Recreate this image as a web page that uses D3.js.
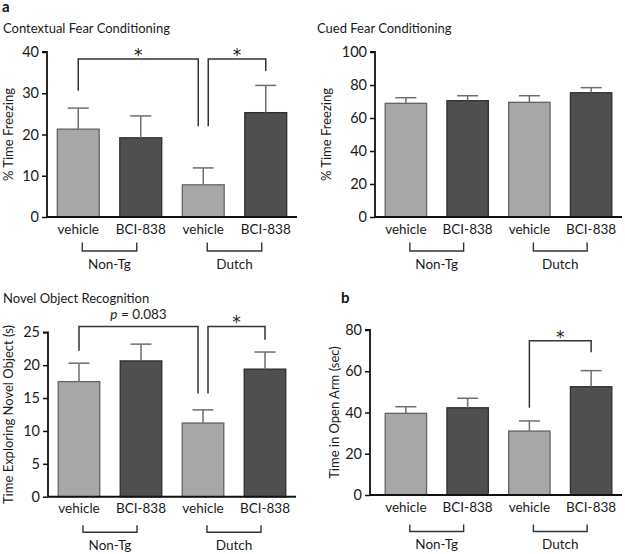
<!DOCTYPE html>
<html>
<head>
<meta charset="utf-8">
<script src="https://cdn.jsdelivr.net/npm/d3@7"></script>
<style>
  html, body { margin: 0; padding: 0; background: #fff; }
  svg { display: block; font-family: Lato, "Open Sans", sans-serif; }
</style>
</head>
<body>
<svg id="chart" width="625" height="554"></svg>
<script>
// ---------- DATA ----------
const categories = ["vehicle", "BCI-838", "vehicle", "BCI-838"];
const groups = ["Non-Tg", "Dutch"];
const treatment = ["vehicle", "BCI-838", "vehicle", "BCI-838"];

const contextualMean = [21.3, 19.2, 7.8, 25.3];
const contextualSem  = [5.1, 5.3, 4.1, 6.6];
const contextualTicks = [0, 10, 20, 30, 40];

const cuedMean = [68.9, 70.5, 69.5, 75.3];
const cuedSem  = [3.4, 3.0, 4.0, 3.1];
const cuedTicks = [0, 20, 40, 60, 80, 100];

const novelMean = [17.5, 20.65, 11.2, 19.4];
const novelSem  = [2.8, 2.55, 2.0, 2.6];
const novelTicks = [0, 5, 10, 15, 20, 25];

const openArmMean = [39.6, 42.3, 31.0, 52.5];
const openArmSem  = [3.2, 4.6, 4.9, 7.8];
const openArmTicks = [0, 20, 40, 60, 80];

// significance annotations: bars a->b, bracket levels in data units
const contextualSig = [
  { a: 0, b: 2, startA: 30.6, top: 38.3, endB: 22.0, label: "*" },
  { a: 2, b: 3, startA: 22.0, top: 38.3, endB: 35.4, label: "*" }
];
const cuedSig = [];
const novelSig = [
  { a: 0, b: 2, startA: 22.2, top: 25.9, endB: 15.7, label: "p = 0.083" },
  { a: 2, b: 3, startA: 15.7, top: 25.9, endB: 23.85, label: "*" }
];
const openArmSig = [
  { a: 2, b: 3, startA: 42.3, top: 74.8, endB: 69.2, label: "*" }
];

// ---------- DRAW ----------
const svg = d3.select("#chart");
svg.append("rect").attr("width", 625).attr("height", 554).attr("fill", "#fff");

const lightFill = "#a7a7a7", lightStroke = "#636363";
const darkFill = "#4f4f4f", darkStroke = "#2e2e2e";

function panel(opt) {
  const g = svg.append("g");
  const x = d3.scaleBand().domain(d3.range(categories.length))
    .range(opt.bandRange).paddingInner(0.33).paddingOuter(0.165);
  const y = d3.scaleLinear().domain([0, d3.max(opt.ticks)]).range(opt.yRange);

  if (opt.title) {
    g.append("text").attr("x", opt.titleX).attr("y", opt.titleY)
      .attr("font-size", 13).attr("fill", "#1a1a1a").text(opt.title);
  }

  g.selectAll("rect.bar").data(opt.mean).join("rect")
    .attr("class", "bar")
    .attr("x", (d, i) => x(i))
    .attr("width", x.bandwidth())
    .attr("y", d => y(d))
    .attr("height", d => y(0) - y(d))
    .attr("fill", (d, i) => treatment[i] === "vehicle" ? lightFill : darkFill)
    .attr("stroke", (d, i) => treatment[i] === "vehicle" ? lightStroke : darkStroke)
    .attr("stroke-width", 1.3);

  const capW = 21;
  opt.mean.forEach((m, i) => {
    const cx = x(i) + x.bandwidth() / 2;
    g.append("line").attr("x1", cx).attr("x2", cx)
      .attr("y1", y(m)).attr("y2", y(m + opt.sem[i]))
      .attr("stroke", "#6e6e6e").attr("stroke-width", 1.5);
    g.append("line").attr("x1", cx - capW / 2).attr("x2", cx + capW / 2)
      .attr("y1", y(m + opt.sem[i])).attr("y2", y(m + opt.sem[i]))
      .attr("stroke", "#6e6e6e").attr("stroke-width", 1.5);
  });

  const yAxis = d3.axisLeft(y).tickValues(opt.ticks).tickSize(5).tickPadding(3);
  const ya = g.append("g").attr("transform", `translate(${opt.axisX},0)`).call(yAxis);
  ya.select(".domain").attr("stroke", "#111").attr("stroke-width", 1.8)
    .attr("d", `M-5,${y(d3.max(opt.ticks))}H0V${y(0)}`);
  ya.selectAll(".tick line").attr("stroke", "#111").attr("stroke-width", 1.5);
  ya.selectAll(".tick text").attr("font-size", 14.5).attr("fill", "#1a1a1a")
    .attr("font-family", "Lato, sans-serif");

  g.append("line").attr("x1", opt.axisX).attr("x2", opt.bandRange[1])
    .attr("y1", y(0)).attr("y2", y(0)).attr("stroke", "#111").attr("stroke-width", 2);

  g.append("text")
    .attr("transform", `translate(${opt.ylabelX},${(y(0) + y(d3.max(opt.ticks))) / 2}) rotate(-90)`)
    .attr("text-anchor", "middle").attr("font-size", 13).attr("fill", "#1a1a1a")
    .text(opt.ylabel);

  const base = y(0);
  categories.forEach((c, i) => {
    g.append("text").attr("x", x(i) + x.bandwidth() / 2).attr("y", base + 16.5)
      .attr("text-anchor", "middle").attr("font-size", 13.5).attr("fill", "#1a1a1a").text(c);
  });

  groups.forEach((gr, k) => {
    const x1 = x(2 * k) + x.bandwidth() / 2 + 4;
    const x2 = x(2 * k + 1) + x.bandwidth() / 2 - 4;
    g.append("path")
      .attr("d", `M${x1},${base + opt.brTop}V${base + opt.brBot}H${x2}V${base + opt.brTop}`)
      .attr("fill", "none").attr("stroke", "#333").attr("stroke-width", 1.4);
    g.append("text").attr("x", (x1 + x2) / 2).attr("y", base + opt.grY)
      .attr("text-anchor", "middle").attr("font-size", 13.5).attr("fill", "#1a1a1a").text(gr);
  });

  opt.sig.forEach(s => {
    const offA = (s.a === 2 && opt.sig.length > 1) ? 5 : 0;
    const offB = s.b === 2 ? -5 : 0;
    const xa = x(s.a) + x.bandwidth() / 2 + offA;
    const xb = x(s.b) + x.bandwidth() / 2 + offB;
    g.append("path")
      .attr("d", `M${xa},${y(s.startA)}V${y(s.top)}H${xb}V${y(s.endB)}`)
      .attr("fill", "none").attr("stroke", "#333").attr("stroke-width", 1.5);
    const mx = (xa + xb) / 2;
    if (s.label === "*") {
      g.append("text").attr("x", mx).attr("y", y(s.top) + 2)
        .attr("text-anchor", "middle").attr("font-size", 17)
        .attr("font-family", "DejaVu Sans, sans-serif").attr("fill", "#1a1a1a").text("*");
    } else {
      const t = g.append("text").attr("x", mx).attr("y", y(s.top) - 7)
        .attr("text-anchor", "middle").attr("font-size", 13.5).attr("fill", "#1a1a1a");
      const parts = s.label.split(" = ");
      t.append("tspan").attr("font-style", "italic").text(parts[0]);
      t.append("tspan").text(" = " + parts[1]);
    }
  });
}

svg.append("text").attr("x", 2).attr("y", 12).attr("font-size", 15).attr("font-weight", "bold")
  .attr("fill", "#111").text("a");
svg.append("text").attr("x", 341).attr("y", 303).attr("font-size", 15).attr("font-weight", "bold")
  .attr("fill", "#111").text("b");

panel({ title: "Contextual Fear Conditioning", titleX: 3, titleY: 33,
  mean: contextualMean, sem: contextualSem, ticks: contextualTicks, sig: contextualSig,
  axisX: 47, bandRange: [47, 297], yRange: [217, 52], ylabel: "% Time Freezing", ylabelX: 13,
  brTop: 25.5, brBot: 34, grY: 52 });

panel({ title: "Cued Fear Conditioning", titleX: 317, titleY: 33,
  mean: cuedMean, sem: cuedSem, ticks: cuedTicks, sig: cuedSig,
  axisX: 375, bandRange: [375, 622], yRange: [217, 52], ylabel: "% Time Freezing", ylabelX: 331,
  brTop: 25.5, brBot: 34, grY: 52 });

panel({ title: "Novel Object Recognition", titleX: 3, titleY: 302.5,
  mean: novelMean, sem: novelSem, ticks: novelTicks, sig: novelSig,
  axisX: 48, bandRange: [48, 296], yRange: [496.7, 332.3], ylabel: "Time Exploring Novel Object (s)", ylabelX: 13,
  brTop: 28.5, brBot: 35.5, grY: 53.5 });

panel({ title: null,
  mean: openArmMean, sem: openArmSem, ticks: openArmTicks, sig: openArmSig,
  axisX: 370, bandRange: [375, 622], yRange: [495, 330], ylabel: "Time in Open Arm (sec)", ylabelX: 339,
  brTop: 29.5, brBot: 36.5, grY: 54 });
</script>
</body>
</html>
